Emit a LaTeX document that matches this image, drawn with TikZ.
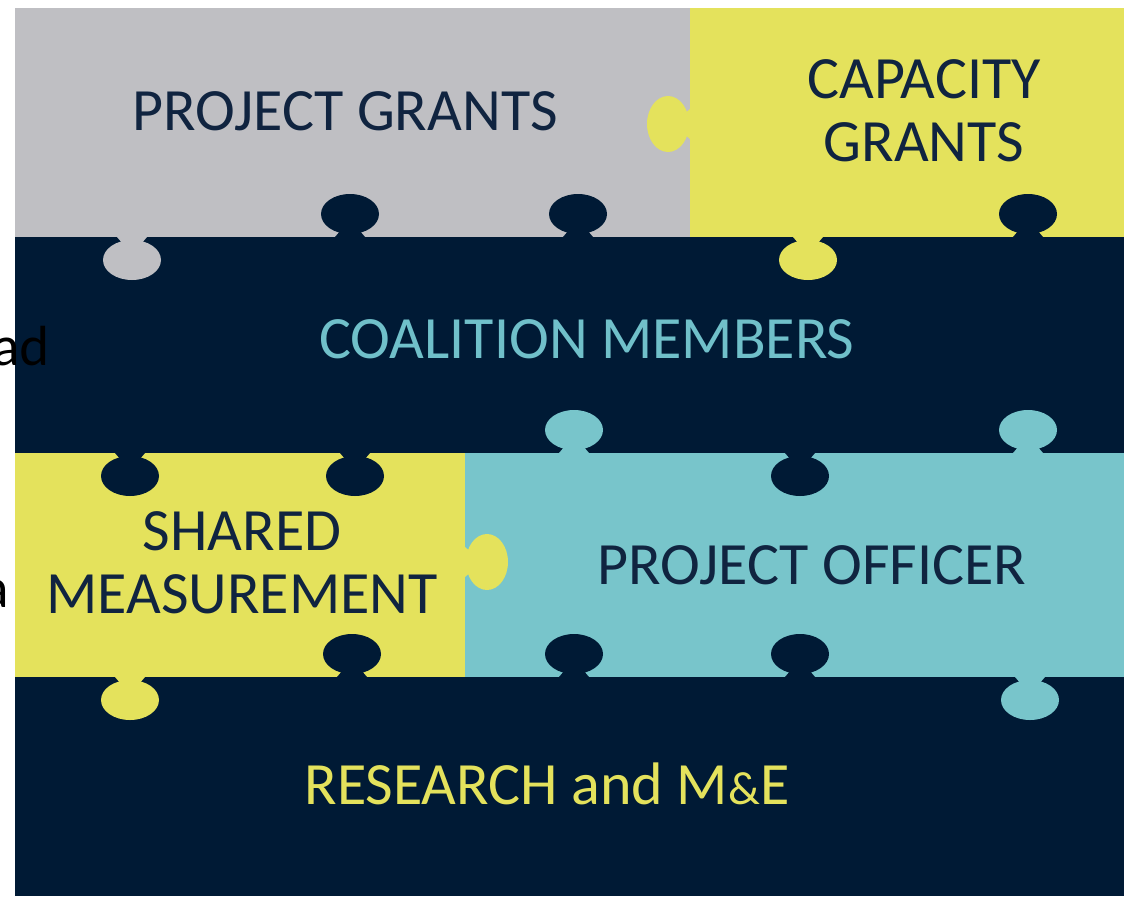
\documentclass[tikz,border=0pt]{standalone}
\usepackage{fontspec}
\setmainfont{Carlito}
\newfontfamily\thinfont{Lato}
\definecolor{pgray}{RGB}{191,191,195}
\definecolor{pyellow}{RGB}{228,226,92}
\definecolor{pnavy}{RGB}{0,26,53}
\definecolor{pteal}{RGB}{120,197,203}
\definecolor{ptext}{RGB}{16,36,64}
\definecolor{pteal2}{RGB}{112,192,202}
\newcommand\knobV[4]{% colour, x, edge y, direction (+1 down, -1 up)
  \fill[#1] ({#2-15},#3) -- ({#2-9},{#3+#4*7}) -- ({#2+9},{#3+#4*7}) -- ({#2+15},#3) -- cycle;
  \fill[#1] (#2,{#3+#4*23}) ellipse [x radius=29, y radius=20];}
\newcommand\knobH[4]{% colour, edge x, y, direction (+1 right, -1 left)
  \fill[#1] (#2,{#3-15}) -- ({#2+#4*7},{#3-9}) -- ({#2+#4*7},{#3+9}) -- (#2,{#3+15}) -- cycle;
  \fill[#1] ({#2+#4*22},#3) ellipse [x radius=21, y radius=28];}
\tikzset{
  lbl/.style={font=\fontsize{45}{47}\selectfont, align=center, inner sep=0pt},
  thin/.style={font=\thinfont\fontsize{40}{42}\selectfont, text=black, inner sep=0pt, anchor=base east}
}
\begin{document}
\begin{tikzpicture}[x=0.75pt,y=-0.75pt]
\useasboundingbox (0,0) rectangle (1124,896);
\fill[white] (0,0) rectangle (1124,896);
% pieces
\fill[pgray] (15,8) rectangle (690,237);
\fill[pyellow] (690,8) rectangle (1124,237);
\fill[pnavy] (15,237) rectangle (1124,453);
\fill[pyellow] (15,453) rectangle (465,677);
\fill[pteal] (465,453) rectangle (1124,677);
\fill[pnavy] (15,677) rectangle (1124,896);
% knobs, top row boundary
\knobV{pnavy}{350}{237}{-1}
\knobV{pnavy}{578}{237}{-1}
\knobV{pnavy}{1028}{237}{-1}
\knobV{pgray}{132}{237}{1}
\knobV{pyellow}{808}{237}{1}
\knobH{pyellow}{690}{124}{-1}
% middle boundary
\knobV{pteal}{574}{453}{-1}
\knobV{pteal}{1028}{453}{-1}
\knobV{pnavy}{130}{453}{1}
\knobV{pnavy}{355}{453}{1}
\knobV{pnavy}{800}{453}{1}
\knobH{pyellow}{465}{562}{1}
% bottom boundary
\knobV{pnavy}{352}{677}{-1}
\knobV{pnavy}{574}{677}{-1}
\knobV{pnavy}{800}{677}{-1}
\knobV{pyellow}{130}{677}{1}
\knobV{pteal}{1030}{677}{1}
% labels
\node[lbl, text=ptext] (pg) at (345,111) {PROJECT GRANTS};
\node[lbl, text=ptext] (cg) at (924,111) {CAPACITY\\GRANTS};
\node[lbl, text=pteal2] (cm) at (587,339) {COALITION MEMBERS};
\node[lbl, text=ptext] (sm) at (242,563) {SHARED\\MEASUREMENT};
\node[lbl, text=ptext] (po) at (812,565) {PROJECT OFFICER};
\node[lbl, text=pyellow] (re) at (547,784) {RESEARCH and M{\fontsize{35}{35}\selectfont\&}E};
% stray background text
\node[thin] (t1) at (50,365) {ad};
\node[thin] (t2) at (9,607) {a};
\end{tikzpicture}
\end{document}
